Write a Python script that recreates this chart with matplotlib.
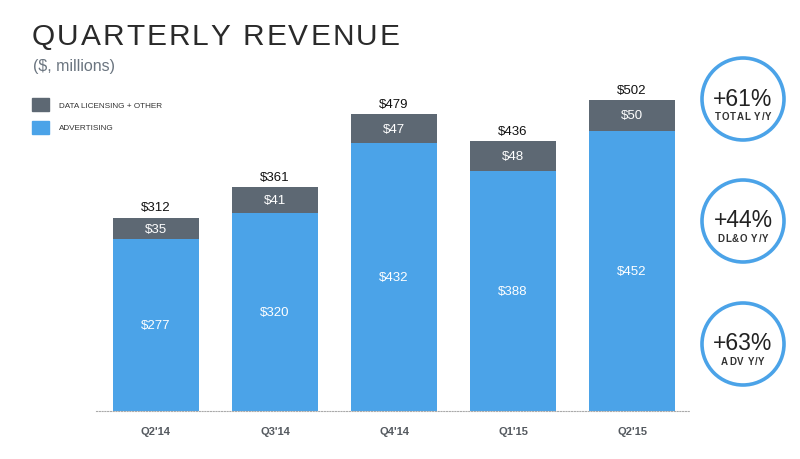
import matplotlib
matplotlib.use("Agg")
import matplotlib.pyplot as plt
from matplotlib.patches import Circle, Rectangle

plt.rcParams['font.family'] = ['Liberation Sans', 'DejaVu Sans']

quarters = ["Q2'14", "Q3'14", "Q4'14", "Q1'15", "Q2'15"]
advertising = [277, 320, 432, 388, 452]
data_licensing = [35, 41, 47, 48, 50]
totals = [312, 361, 479, 436, 502]

growth_values = ["+61%", "+44%", "+63%"]
growth_labels = ["TOTAL Y/Y", "DL&O Y/Y", "ADV Y/Y"]

BLUE = "#4BA3E8"
GREY = "#5D6873"
W, H = 800, 460

fig = plt.figure(figsize=(8, 4.6), dpi=100)
renderer = fig.canvas.get_renderer()


def spaced_text(ax, x, y, s, tracking, ha='left', **kw):
    # draw a string letter by letter so we get the wide letter spacing
    sizes = []
    for ch in s:
        if ch == ' ':
            sizes.append(kw['fontsize'] * 0.38)
            continue
        t = ax.text(0, 0, ch, **kw)
        sizes.append(t.get_window_extent(renderer).width)
        t.remove()
    total = sum(sizes) + tracking * (len(s) - 1)
    if ha == 'center':
        x -= total / 2
    for ch, w in zip(s, sizes):
        if ch != ' ':
            ax.text(x, y, ch, ha='left', **kw)
        x += w + tracking


# bar area, placed in pixel terms (baseline at y=412, from x=96 to x=690)
ax = fig.add_axes([96 / W, (H - 412) / H, (690 - 96) / W, 350 / H])
x = list(range(len(quarters)))
ax.bar(x, advertising, width=0.72, color=BLUE, edgecolor='none')
ax.bar(x, data_licensing, width=0.72, bottom=advertising, color=GREY, edgecolor='none')
ax.set_xlim(-0.504, 4.487)
ax.set_ylim(0, 350 / 0.6195)

for i in x:
    ax.text(i, advertising[i] / 2, f"${advertising[i]}", ha='center', va='center',
            color='white', fontsize=9.5)
    ax.text(i, advertising[i] + data_licensing[i] / 2, f"${data_licensing[i]}",
            ha='center', va='center', color='white', fontsize=9.5)
    ax.text(i, totals[i] + 7, f"${totals[i]}", ha='center', va='bottom',
            color='#111111', fontsize=9.5)

ax.set_xticks(x)
ax.set_xticklabels(quarters, fontsize=8, fontweight='bold', color='#555a60')
ax.tick_params(axis='x', length=0, pad=11)
ax.set_yticks([])
for side in ['left', 'right', 'top']:
    ax.spines[side].set_visible(False)
ax.spines['bottom'].set_linestyle((0, (1, 1.5)))
ax.spines['bottom'].set_color('#aaaaaa')
ax.spines['bottom'].set_linewidth(0.8)

# overlay in pixel coordinates for title, legend and circles
ov = fig.add_axes([0, 0, 1, 1])
ov.set_xlim(0, W)
ov.set_ylim(H, 0)
ov.axis('off')

spaced_text(ov, 32, 45, "QUARTERLY REVENUE", 2.0, fontsize=21.5,
            color='#2a2a2a', va='baseline')
ov.text(33, 67, "($, millions)", fontsize=11.5, color='#6b7580', ha='left', va='center')

ov.add_patch(Rectangle((32, 99), 17, 13, color=GREY))
ov.add_patch(Rectangle((32, 122), 17, 13, color=BLUE))
ov.text(59, 106, "DATA LICENSING + OTHER", fontsize=5.9, color='#333333', va='center')
ov.text(59, 129, "ADVERTISING", fontsize=5.9, color='#333333', va='center')

for cy, val, lab in zip([100, 222, 345], growth_values, growth_labels):
    ov.add_patch(Circle((743, cy), 41, fill=False, edgecolor=BLUE, linewidth=2.6))
    ov.text(743, cy - 1, val, fontsize=16.5, color='#222222', ha='center', va='center')
    spaced_text(ov, 743, cy + 17, lab, 0.8, ha='center', fontsize=7,
                color='#333333', va='center', fontweight='bold')

fig.savefig("out.png", dpi=100)
